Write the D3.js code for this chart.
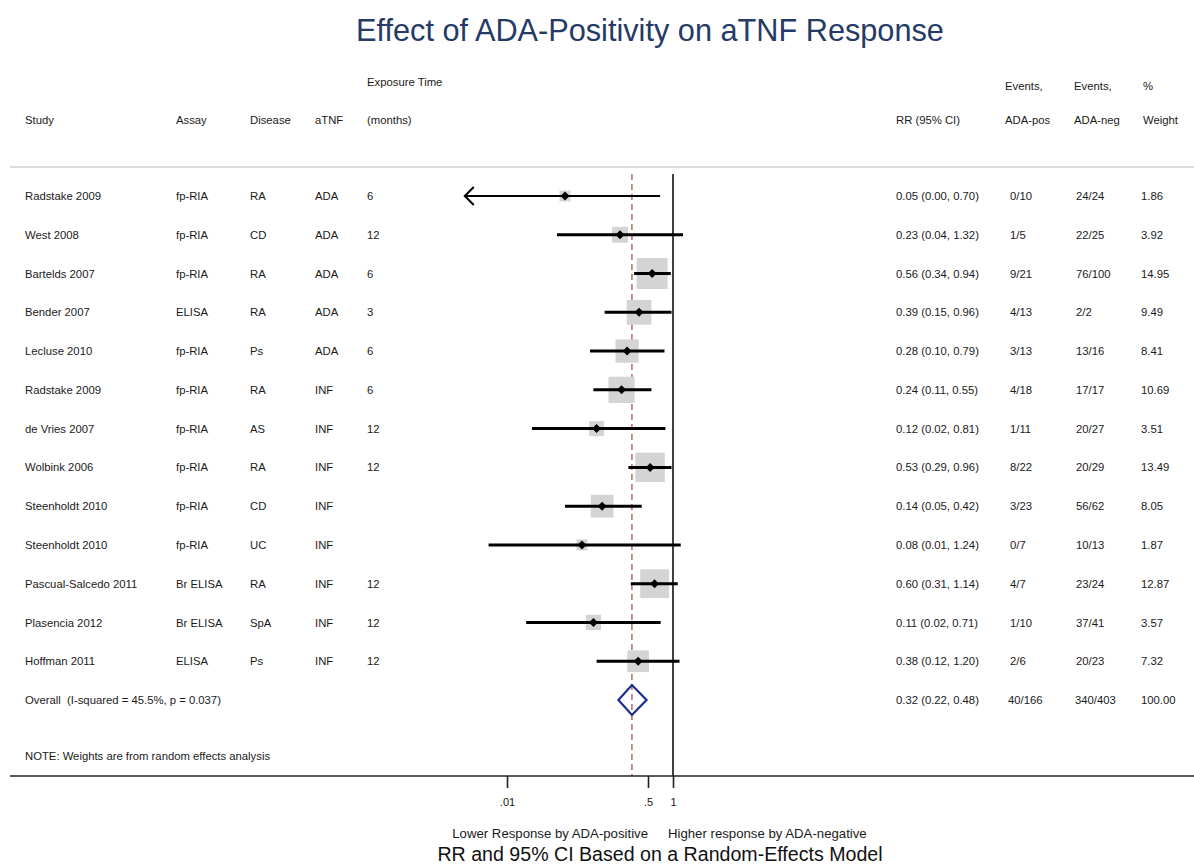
<!DOCTYPE html>
<html>
<head>
<meta charset="utf-8">
<script src="https://cdn.jsdelivr.net/npm/d3@7"></script>
<style>
  html, body { margin: 0; padding: 0; background: #fff; }
  svg { display: block; font-family: "Liberation Sans", Arial, sans-serif; }
</style>
</head>
<body>
<svg id="chart" width="1194" height="864"></svg>
<script>
// ---------------- data ----------------
const studies   = ["Radstake 2009","West 2008","Bartelds 2007","Bender 2007","Lecluse 2010","Radstake 2009","de Vries 2007","Wolbink 2006","Steenholdt 2010","Steenholdt 2010","Pascual-Salcedo 2011","Plasencia 2012","Hoffman 2011"];
const assays    = ["fp-RIA","fp-RIA","fp-RIA","ELISA","fp-RIA","fp-RIA","fp-RIA","fp-RIA","fp-RIA","fp-RIA","Br ELISA","Br ELISA","ELISA"];
const diseases  = ["RA","CD","RA","RA","Ps","RA","AS","RA","CD","UC","RA","SpA","Ps"];
const drugs     = ["ADA","ADA","ADA","ADA","ADA","INF","INF","INF","INF","INF","INF","INF","INF"];
const exposure  = ["6","12","6","3","6","6","12","12","","","12","12","12"];
const rr        = [0.05, 0.23, 0.56, 0.39, 0.28, 0.24, 0.12, 0.53, 0.14, 0.08, 0.60, 0.11, 0.38];
const ciLow     = [0.002, 0.04, 0.34, 0.15, 0.10, 0.11, 0.02, 0.29, 0.05, 0.006, 0.31, 0.017, 0.12];
const ciHigh    = [0.70, 1.32, 0.94, 0.96, 0.79, 0.55, 0.81, 0.96, 0.42, 1.24, 1.14, 0.71, 1.20];
const eventsPos = ["0/10","1/5","9/21","4/13","3/13","4/18","1/11","8/22","3/23","0/7","4/7","1/10","2/6"];
const eventsNeg = ["24/24","22/25","76/100","2/2","13/16","17/17","20/27","20/29","56/62","10/13","23/24","37/41","20/23"];
const weights   = [1.86, 3.92, 14.95, 9.49, 8.41, 10.69, 3.51, 13.49, 8.05, 1.87, 12.87, 3.57, 7.32];

const overallLabel = "Overall  (I-squared = 45.5%, p = 0.037)";
const overall = { rr: 0.32, lo: 0.22, hi: 0.48, pos: "40/166", neg: "340/403", w: "100.00" };

const tickValues = [0.01, 0.5, 1];
const tickLabels = [".01", ".5", "1"];
const plotMin = 0.0031; // lower display limit of the plot (CIs beyond get an arrow)

// ---------------- layout ----------------
const svg = d3.select("#chart");
const fmt = d3.format(".2f");

const x = d3.scaleLog().domain([0.01, 1]).range([507, 673]);
const rowIdx = d3.range(studies.length + 1);
const y = d3.scalePoint().domain(rowIdx).range([196, 700]);
const boxSize = d3.scaleSqrt().domain([0, 14.95]).range([0, 31]);

const textColor = "#1a1a1a";
const fs = "11.3px";

// Title
svg.append("text")
  .attr("x", 650).attr("y", 41)
  .attr("text-anchor", "middle")
  .attr("font-size", "30.7px")
  .attr("fill", "#253a66")
  .text("Effect of ADA-Positivity on aTNF Response");

// Column headers
const headers = [
  { x: 25,   t1: "",              t2: "Study" },
  { x: 176,  t1: "",              t2: "Assay" },
  { x: 250,  t1: "",              t2: "Disease" },
  { x: 315,  t1: "",              t2: "aTNF" },
  { x: 367,  t1: "Exposure Time", t2: "(months)" },
  { x: 896,  t1: "",              t2: "RR (95% CI)" },
  { x: 1005, t1: "Events,",       t2: "ADA-pos" },
  { x: 1074, t1: "Events,",       t2: "ADA-neg" },
  { x: 1143, t1: "%",             t2: "Weight" }
];
headers.forEach(h => {
  if (h.t1) svg.append("text").attr("x", h.x).attr("y", h.t1 === "Exposure Time" ? 86 : 90)
    .attr("font-size", fs).attr("fill", textColor).text(h.t1);
  svg.append("text").attr("x", h.x).attr("y", 124)
    .attr("font-size", fs).attr("fill", textColor).text(h.t2);
});

// header divider
svg.append("line").attr("x1", 10).attr("x2", 1194).attr("y1", 167).attr("y2", 167)
  .attr("stroke", "#dcdcdc").attr("stroke-width", 2);

// reference lines
svg.append("line").attr("x1", x(1)).attr("x2", x(1)).attr("y1", 174).attr("y2", 776)
  .attr("stroke", "#111").attr("stroke-width", 1.6);
svg.append("line").attr("x1", x(overall.rr)).attr("x2", x(overall.rr)).attr("y1", 174).attr("y2", 776)
  .attr("stroke", "#a0574e").attr("stroke-width", 1.3).attr("stroke-dasharray", "6,4");

// rows text
const cols = [
  { x: 25,   v: i => studies[i] },
  { x: 176,  v: i => assays[i] },
  { x: 250,  v: i => diseases[i] },
  { x: 315,  v: i => drugs[i] },
  { x: 367,  v: i => exposure[i] },
  { x: 896,  v: i => `${fmt(rr[i])} (${fmt(ciLow[i])}, ${fmt(ciHigh[i])})` },
  { x: 1010, v: i => eventsPos[i] },
  { x: 1076, v: i => eventsNeg[i] },
  { x: 1141, v: i => fmt(weights[i]) }
];
const rowsG = svg.append("g");
studies.forEach((s, i) => {
  cols.forEach(c => {
    rowsG.append("text").attr("x", c.x).attr("y", y(i)).attr("dy", "0.36em")
      .attr("font-size", fs).attr("fill", textColor).text(c.v(i));
  });
});

// overall row text
const oi = studies.length;
[[25, overallLabel], [896, `${fmt(overall.rr)} (${fmt(overall.lo)}, ${fmt(overall.hi)})`],
 [1008, overall.pos], [1075, overall.neg], [1141, overall.w]].forEach(([xx, t]) => {
  svg.append("text").attr("x", xx).attr("y", y(oi)).attr("dy", "0.36em")
    .style("white-space", "pre")
    .attr("font-size", fs).attr("fill", textColor).text(t);
});

// note
svg.append("text").attr("x", 25).attr("y", 756).attr("dy", "0.36em")
  .attr("font-size", fs).attr("fill", textColor).text("NOTE: Weights are from random effects analysis");

// boxes
const marks = svg.append("g");
studies.forEach((s, i) => {
  const b = boxSize(weights[i]);
  marks.append("rect")
    .attr("x", x(rr[i]) - b / 2).attr("y", y(i) - b / 2)
    .attr("width", b).attr("height", b)
    .attr("fill", "#d4d4d4");
});
// CI lines
studies.forEach((s, i) => {
  const clipped = ciLow[i] < plotMin;
  const x1 = x(Math.max(ciLow[i], plotMin));
  marks.append("line")
    .attr("x1", x1).attr("x2", x(ciHigh[i]))
    .attr("y1", y(i)).attr("y2", y(i))
    .attr("stroke", "#000").attr("stroke-width", clipped ? 2 : 3);
  if (clipped) {
    marks.append("path")
      .attr("d", `M${x1 + 9},${y(i) - 9} L${x1},${y(i)} L${x1 + 9},${y(i) + 9}`)
      .attr("fill", "none").attr("stroke", "#000").attr("stroke-width", 2);
  }
  // point estimate marker (diamond)
  const cx = x(rr[i]), cy = y(i), d = 4.5;
  marks.append("path")
    .attr("d", `M${cx - d},${cy} L${cx},${cy - d} L${cx + d},${cy} L${cx},${cy + d} Z`)
    .attr("fill", "#000");
});

// overall diamond
const oy = y(oi);
svg.append("path")
  .attr("d", `M${x(overall.lo)},${oy} L${x(overall.rr)},${oy - 15} L${x(overall.hi)},${oy} L${x(overall.rr)},${oy + 15} Z`)
  .attr("fill", "none").attr("stroke", "#1c2e8a").attr("stroke-width", 2.2);

// axis
svg.append("line").attr("x1", 10).attr("x2", 1194).attr("y1", 776).attr("y2", 776)
  .attr("stroke", "#222").attr("stroke-width", 1.6);
const axis = d3.axisBottom(x).tickValues(tickValues)
  .tickFormat((d, i) => tickLabels[i]).tickSize(12).tickPadding(10);
const ag = svg.append("g").attr("transform", "translate(0,776)").call(axis);
ag.select(".domain").remove();
ag.selectAll(".tick line").attr("stroke", "#222").attr("stroke-width", 1.6);
ag.selectAll(".tick text").attr("font-size", "11px").attr("fill", textColor)
  .attr("font-family", "Liberation Sans, Arial, sans-serif");

// bottom labels
svg.append("text").attr("x", 648).attr("y", 838).attr("text-anchor", "end")
  .attr("font-size", "13.2px").attr("fill", textColor).text("Lower Response by ADA-positive");
svg.append("text").attr("x", 668).attr("y", 838).attr("text-anchor", "start")
  .attr("font-size", "13.2px").attr("fill", textColor).text("Higher response by ADA-negative");
svg.append("text").attr("x", 660).attr("y", 861).attr("text-anchor", "middle")
  .attr("font-size", "19.6px").attr("fill", "#111").text("RR and 95% CI Based on a Random-Effects Model");
</script>
</body>
</html>
